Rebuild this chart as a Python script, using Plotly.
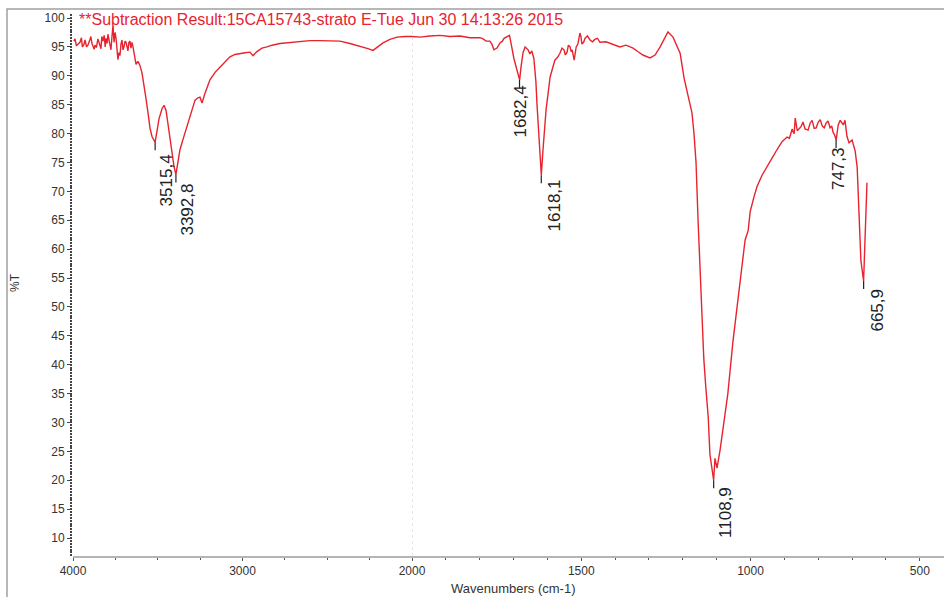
import plotly.graph_objects as go

# ---- data (wavenumber cm-1, %T) ----
# high-wavenumber part (4000-2000, compressed scale)
wn_high = [
    3995, 3988, 3980, 3970, 3959, 3950, 3945, 3936, 3929, 3920,
    3912, 3900, 3895, 3888, 3875, 3870, 3862, 3853, 3847, 3841,
    3835, 3830, 3823, 3816, 3810, 3805, 3799, 3794, 3782, 3776,
    3770, 3764, 3758, 3752, 3746, 3740, 3735, 3729, 3723, 3717,
    3711, 3705, 3699, 3693, 3687, 3681, 3676, 3670, 3664, 3658,
    3652, 3646, 3628, 3617, 3605, 3593, 3581, 3569, 3557, 3546,
    3534, 3516, 3504, 3493, 3475, 3463, 3451, 3440, 3428, 3416,
    3404, 3393, 3381, 3369, 3351, 3339, 3322, 3310, 3292, 3280,
    3263, 3251, 3239, 3221, 3192, 3162, 3133, 3103, 3074, 3044,
    3015, 2985, 2956, 2938, 2915, 2885, 2856, 2826, 2779, 2720,
    2661, 2602, 2543, 2484, 2425, 2366, 2325, 2289, 2260, 2230,
    2201, 2171, 2130, 2088, 2041, 2000,
]
t_high = [
    96.0, 96.4, 95.2, 95.5, 95.8, 96.6, 95.0, 95.4, 96.2, 95.0,
    95.3, 96.3, 96.8, 95.6, 94.6, 95.3, 94.9, 96.4, 95.8, 95.2,
    94.7, 96.8, 96.0, 97.0, 95.0, 96.5, 95.6, 97.2, 95.5, 94.5,
    96.8, 98.8, 95.8, 97.5, 96.5, 95.0, 92.8, 94.0, 93.5, 95.5,
    96.2, 94.5, 95.0, 96.0, 95.8, 95.0, 94.3, 95.8, 96.0, 94.8,
    95.8, 95.0, 92.0, 92.5, 91.8, 90.5, 88.5, 86.0, 83.5, 81.0,
    79.5, 78.5, 80.5, 82.5, 84.3, 84.9, 84.0, 81.5, 79.0, 76.5,
    74.3, 72.9, 75.0, 77.2, 79.0, 80.1, 81.8, 82.9, 84.6, 85.8,
    86.2, 86.3, 85.3, 87.0, 89.3, 90.6, 91.5, 92.5, 93.3, 93.7,
    93.9, 94.0, 94.1, 93.5, 94.2, 94.8, 95.0, 95.3, 95.6, 95.8,
    96.0, 96.1, 96.1, 96.0, 96.0, 95.6, 95.3, 95.0, 94.7, 94.4,
    95.0, 95.7, 96.3, 96.7, 96.8, 96.8,
]
# low-wavenumber part (2000-430, expanded scale)
wn_low = [
    2000,
    1976, 1947, 1917, 1888, 1858, 1829, 1799, 1790, 1781, 1770,
    1764, 1758, 1749, 1740, 1733, 1728, 1716, 1712, 1707, 1699,
    1690, 1682, 1678, 1672, 1666, 1657, 1652, 1646, 1640, 1634,
    1631, 1625, 1618, 1613, 1604, 1592, 1578, 1570, 1563, 1557,
    1551, 1547, 1542, 1538, 1533, 1530, 1527, 1521, 1515, 1510,
    1507, 1504, 1501, 1498, 1493, 1489, 1482, 1474, 1467, 1460,
    1452, 1445, 1427, 1409, 1386, 1368, 1347, 1333, 1318, 1297,
    1282, 1267, 1253, 1244, 1229, 1217, 1208, 1196, 1187, 1179,
    1173, 1167, 1161, 1155, 1149, 1143, 1138, 1132, 1125, 1120,
    1114, 1109, 1105, 1099, 1090, 1078, 1067, 1052, 1037, 1025,
    1016, 1007, 1001, 990, 981, 966, 951, 936, 922, 907,
    892, 885, 880, 877, 874, 871, 868, 865, 862, 857,
    851, 845, 839, 830, 824, 818, 812, 806, 800, 794,
    788, 782, 777, 771, 765, 760, 756, 752, 747, 741,
    735, 726, 721, 715, 709, 700, 691, 685, 680, 674,
    666, 663, 660, 656,
]
t_low = [
    96.8,
    96.7, 96.9, 97.0, 96.8, 96.9, 96.6, 96.6, 96.4, 96.0, 96.0,
    95.5, 94.5, 94.8, 95.7, 96.0, 96.5, 96.8, 97.0, 95.5, 93.0,
    91.0, 89.3, 91.5, 94.0, 95.0, 94.5, 93.8, 94.3, 93.0, 89.0,
    85.3, 78.4, 72.8, 77.2, 84.1, 89.8, 92.7, 93.2, 93.9, 94.8,
    94.5, 93.6, 94.1, 95.3, 95.0, 94.2, 94.5, 92.7, 95.0, 95.5,
    96.2, 97.4, 96.8, 95.5, 95.8, 96.5, 96.9, 96.2, 95.9, 96.3,
    96.5, 95.8, 95.9, 95.5, 95.0, 95.3, 94.8, 94.2, 93.6, 93.1,
    93.6, 95.0, 96.5, 97.6, 96.7, 95.0, 93.9, 89.5, 87.0, 85.0,
    83.6, 80.0, 75.0, 65.0, 56.9, 48.0, 41.0, 36.0, 31.0, 24.5,
    21.5, 20.0, 23.8, 22.1, 25.2, 30.0, 35.0, 44.0, 51.0, 57.0,
    61.6, 63.2, 66.5, 69.0, 70.8, 72.8, 74.2, 75.8, 77.2, 78.6,
    79.4, 79.2, 80.2, 80.8, 80.3, 80.0, 82.7, 81.5, 80.5, 80.8,
    81.2, 82.0, 80.8, 80.6, 81.8, 82.3, 80.9, 81.0, 82.0, 82.4,
    81.3, 81.0, 81.8, 82.2, 81.0, 81.3, 80.2, 79.8, 78.9, 81.5,
    82.3, 81.5, 82.3, 79.5, 78.4, 78.9, 77.0, 74.2, 66.0, 58.0,
    54.5, 60.0, 66.0, 71.5,
]

peak_wn = [3515.4, 3392.8, 1682.4, 1618.1, 1108.9, 747.3, 665.9]
peak_t = [78.5, 72.9, 89.3, 72.8, 20.0, 78.9, 54.5]
peak_labels = ["3515,4", "3392,8", "1682,4", "1618,1", "1108,9", "747,3", "665,9"]
label_dx = [11, 12, 1, 13, 12, 3, 14]
label_dy = [38, 35, 32, 30, 32, 29, 29]

x_ticks_high = [4000, 3000, 2000]
x_minor_high = [3750, 3500, 3250, 2750, 2500, 2250]
x_ticks_low = [1500, 1000, 500]
x_minor_low = [1900, 1800, 1700, 1600, 1400, 1300, 1200, 1100, 900, 800, 700, 600]
y_ticks = list(range(10, 101, 5))

title_text = "**Subtraction Result:15CA15743-strato E-Tue Jun 30 14:13:26 2015"

RED = "#e8232e"
W, H = 944, 597
L, R, T, B = 73, 0, 14, 41
split = 339 / (W - L - R)

fig = go.Figure()
fig.add_trace(go.Scatter(x=wn_high, y=t_high, mode="lines", xaxis="x", yaxis="y",
                         line=dict(color=RED, width=1.4), showlegend=False, hoverinfo="skip"))
fig.add_trace(go.Scatter(x=wn_low, y=t_low, mode="lines", xaxis="x2", yaxis="y",
                         line=dict(color=RED, width=1.4), showlegend=False, hoverinfo="skip"))

axis_font = dict(family="Liberation Sans, Arial, sans-serif", size=12, color="#333")

fig.update_layout(
    width=W, height=H, autosize=False,
    margin=dict(l=L, r=R, t=T, b=B, pad=0),
    paper_bgcolor="white", plot_bgcolor="white",
    xaxis=dict(domain=[0, split], range=[4000, 2000], tickmode="array", tickvals=x_ticks_high,
               ticks="outside", ticklen=3, tickcolor="#555", showline=True, linecolor="#b5b5b5",
               linewidth=1.5, showgrid=False, zeroline=False, anchor="y", tickfont=axis_font,
               automargin=False,
               minor=dict(tickmode="array", tickvals=x_minor_high, ticks="outside", ticklen=2,
                          tickcolor="#555")),
    xaxis2=dict(domain=[split, 1], range=[2000, 428.5], tickmode="array", tickvals=x_ticks_low,
                ticks="outside", ticklen=3, tickcolor="#555", showline=True, linecolor="#b5b5b5",
                linewidth=1.5, showgrid=False, zeroline=False, anchor="y", tickfont=axis_font,
                automargin=False,
                minor=dict(tickmode="array", tickvals=x_minor_low, ticks="outside", ticklen=2,
                           tickcolor="#555")),
    yaxis=dict(range=[6.89, 100.7], tickmode="array", tickvals=y_ticks, ticks="outside",
               ticklen=5, tickcolor="#444", showline=False, showgrid=False, zeroline=False,
               tickfont=axis_font, anchor="x", automargin=False,
               minor=dict(dtick=0.5, ticks="outside", ticklen=2, tickwidth=1.5, tickcolor="#444")),
)

shapes = []
# outer frame
shapes.append(dict(type="rect", xref="paper", yref="paper",
                   x0=(7 - L) / (W - L), x1=1.2, y0=-0.3, y1=(H - B - 9) / (H - B - T),
                   line=dict(color="#a0a0a0", width=1.5), fillcolor="rgba(0,0,0,0)"))
# dotted line at the scale change
shapes.append(dict(type="line", xref="x2", yref="paper", x0=2000, x1=2000, y0=0, y1=1,
                   line=dict(color="#d0d0d0", width=1, dash="dot")))
annotations = []
for w_, t_, lab, dx, dy in zip(peak_wn, peak_t, peak_labels, label_dx, label_dy):
    xr = "x" if w_ >= 2000 else "x2"
    shapes.append(dict(type="line", xref=xr, yref="y", xsizemode="scaled", ysizemode="pixel",
                       yanchor=t_, x0=w_, x1=w_, y0=0, y1=-8,
                       line=dict(color="#222", width=1.2)))
    annotations.append(dict(x=w_, y=t_, xref=xr, yref="y", text=lab, showarrow=False,
                            textangle=-90, xanchor="center", yanchor="middle",
                            xshift=dx, yshift=-dy,
                            font=dict(family="Liberation Sans, Arial, sans-serif", size=17,
                                      color="#222")))

annotations.append(dict(x=(77 - L) / (W - L), y=1.0 - (20 - T) / (H - B - T), xref="paper",
                        yref="paper", text=title_text, showarrow=False, xanchor="left",
                        yanchor="middle",
                        font=dict(family="Liberation Sans, Arial, sans-serif", size=16, color=RED)))
annotations.append(dict(x=(513 - L) / (W - L), y=-(588 - (H - B)) / (H - B - T), xref="paper",
                        yref="paper", text="Wavenumbers (cm-1)", showarrow=False,
                        xanchor="center", yanchor="middle",
                        font=dict(family="Liberation Sans, Arial, sans-serif", size=13,
                                  color="#333")))
annotations.append(dict(x=(15 - L) / (W - L), y=(H - B - 283) / (H - B - T), xref="paper",
                        yref="paper", text="%T", showarrow=False, textangle=-90,
                        xanchor="center", yanchor="middle",
                        font=dict(family="Liberation Sans, Arial, sans-serif", size=12,
                                  color="#333")))

fig.update_layout(shapes=shapes, annotations=annotations)
fig.write_html("out.html")
